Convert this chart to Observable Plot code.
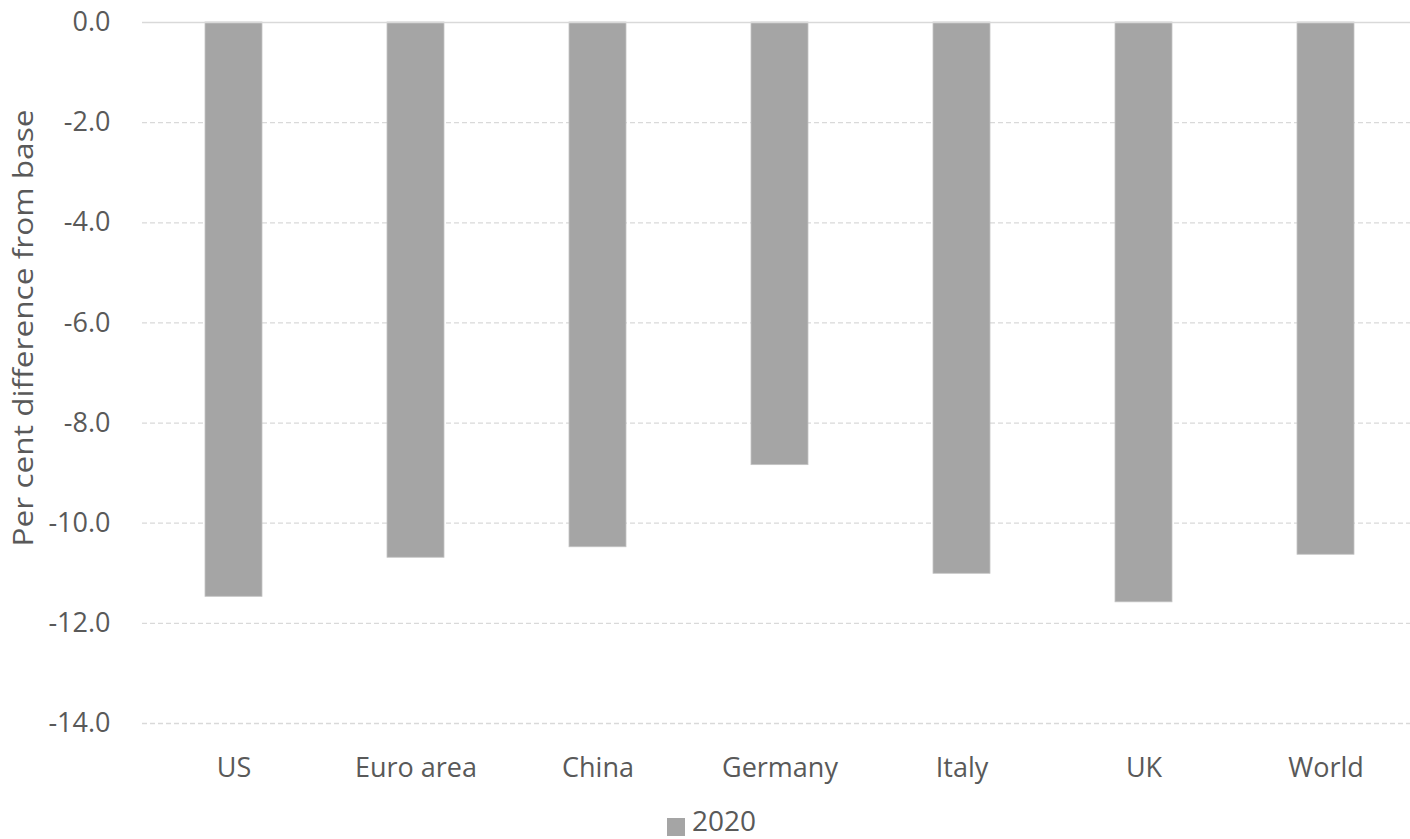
<!DOCTYPE html>
<html>
<head>
<meta charset="utf-8">
<script src="https://cdn.jsdelivr.net/npm/d3@7"></script>
<script src="https://cdn.jsdelivr.net/npm/@observablehq/plot@0.6"></script>
<style>
  html, body { margin: 0; padding: 0; background: #ffffff; overflow: hidden; }
  #chart { width: 1410px; font-family: "Open Sans", sans-serif; }
  #legend { position: relative; height: 39px; font-size: 28px; color: #595959; }
  #legend .swatch { position: absolute; left: 667px; top: 18px; width: 18px; height: 18px; background: #a5a5a5; }
  #legend .label { position: absolute; left: 692px; top: 3px; line-height: 34px; }
</style>
</head>
<body>
<div id="chart"></div>
<script>
// GDP impact by region, per cent difference from base
const regions = ["US", "Euro area", "China", "Germany", "Italy", "UK", "World"];
const values = [-11.47, -10.69, -10.48, -8.84, -11.01, -11.58, -10.63];
const yTicks = [0, -2, -4, -6, -8, -10, -12, -14];
const seriesName = "2020";
const yTitle = "Per cent difference from base";

const data = regions.map((r, i) => ({region: r, value: values[i]}));

const gridColor = "#d9d9d9";
const textColor = "#595959";
const barColor = "#a5a5a5";

const plot = Plot.plot({
  width: 1410,
  height: 800,
  marginTop: 22,
  marginBottom: 77,
  marginLeft: 142,
  marginRight: 0,
  style: {fontFamily: "Open Sans, sans-serif", fontSize: "27px", color: textColor, background: "#ffffff"},
  x: {domain: regions, range: [141.6, 1417.4], paddingInner: 0.687, paddingOuter: 0.3435, label: null},
  y: {domain: [-14, 0], label: null},
  marks: [
    Plot.ruleY(yTicks.filter(d => d !== 0), {stroke: gridColor, strokeWidth: 1.3, strokeDasharray: "5,3"}),
    Plot.barY(data, {x: "region", y1: 0, y2: "value", fill: barColor, stroke: "#c4c4c4", strokeWidth: 0.8}),
    Plot.ruleY([0], {stroke: gridColor, strokeWidth: 1.5}),
    Plot.axisY({ticks: yTicks, tickFormat: d => d.toFixed(1), tickSize: 0, tickPadding: 32, fill: textColor, fontSize: 27, label: null}),
    Plot.axisX({tickSize: 0, tickPadding: 34, fill: textColor, fontSize: 27, label: null}),
    Plot.text([yTitle], {frameAnchor: "left", textAnchor: "middle", lineAnchor: "middle", rotate: -90, dx: -118, dy: -45, fill: textColor, fontSize: 28, className: "y-title"})
  ]
});

// stretch the axis title to its full run along the axis
d3.select(plot).selectAll(".y-title text")
  .attr("textLength", 437)
  .attr("lengthAdjust", "spacingAndGlyphs");

document.getElementById("chart").appendChild(plot);

const legend = document.createElement("div");
legend.id = "legend";
legend.innerHTML = `<span class="swatch"></span><span class="label">${seriesName}</span>`;
document.getElementById("chart").appendChild(legend);
</script>
</body>
</html>
